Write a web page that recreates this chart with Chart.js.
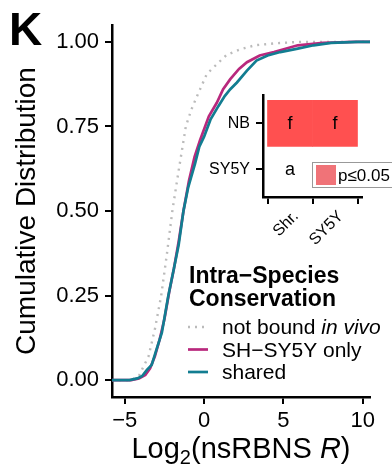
<!DOCTYPE html>
<html>
<head>
<meta charset="utf-8">
<script src="https://cdn.jsdelivr.net/npm/chart.js@4.4.1/dist/chart.umd.min.js"></script>
<style>
html,body{margin:0;padding:0;background:#fff;}
#wrap{position:relative;width:392px;height:469px;overflow:hidden;background:#fff;}
#main{position:absolute;left:0;top:0;}
#inset{position:absolute;left:180px;top:80px;}
</style>
</head>
<body>
<div id="wrap">
<canvas id="main" width="392" height="469"></canvas>
<canvas id="inset" width="212" height="170"></canvas>
</div>
<script>
// ---------- Data ----------
const X_TICKS = [-5, 0, 5, 10];
const Y_TICKS = [0, 0.25, 0.5, 0.75, 1];
const X_MIN = -5.8, X_MAX = 10.45;

// ECDF: not bound in vivo
const notBoundX = [-5.8, -4.6, -4.1, -3.5, -3.1, -2.7, -2.35, -2.0, -1.6, -1.15, -0.8, -0.44, 0.17, 0.82, 1.43, 2.28, 3.2, 4.5, 6.0, 10.45];
const notBoundY = [0, 0, 0.013, 0.07, 0.15, 0.25, 0.37, 0.50, 0.62, 0.75, 0.80, 0.84, 0.905, 0.935, 0.962, 0.978, 0.99, 0.996, 1, 1];

// ECDF: SH-SY5Y only
const sySoloX = [-5.8, -4.6, -4.1, -3.7, -3.4, -3.1, -2.8, -2.5, -2.2, -1.9, -1.6, -1.3, -0.95, -0.6, -0.25, 0.3, 0.8, 1.2, 1.65, 2.2, 2.7, 3.5, 4.4, 5.9, 7.5, 9.5, 10.45];
const sySoloY = [0, 0, 0.005, 0.015, 0.035, 0.07, 0.12, 0.18, 0.26, 0.33, 0.41, 0.50, 0.59, 0.66, 0.71, 0.78, 0.82, 0.86, 0.89, 0.92, 0.94, 0.96, 0.97, 0.99, 0.997, 1, 1];

// ECDF: shared
const sharedX = [-5.8, -4.7, -4.2, -3.9, -3.6, -3.3, -3.0, -2.66, -2.25, -1.9, -1.6, -1.3, -1.0, -0.57, -0.3, 0.0, 0.4, 0.9, 1.3, 1.65, 2.07, 2.7, 3.3, 4.0, 4.8, 5.9, 6.9, 8.0, 9.7, 10.45];
const sharedY = [0, 0, 0.005, 0.012, 0.03, 0.045, 0.09, 0.14, 0.25, 0.33, 0.40, 0.50, 0.57, 0.64, 0.69, 0.72, 0.77, 0.81, 0.84, 0.86, 0.88, 0.915, 0.945, 0.96, 0.97, 0.98, 0.99, 0.997, 1, 1];

const LEGEND_TITLE = ['Intra\u2212Species', 'Conservation'];
const LEGEND_LABELS = ['not bound ', 'SH\u2212SY5Y only', 'shared'];

// Inset significance grid
const INSET_COLS = ['Shr.', 'SY5Y'];
const INSET_ROWS = ['SY5Y', 'NB'];      // bottom to top
const TILE_COL = [0, 1, 0];
const TILE_ROW = [1, 1, 0];
const TILE_SIG = [true, true, false];
const TILE_TEXT = ['f', 'f', 'a'];

// ---------- Styles ----------
const FONT = '"Liberation Sans", Arial, Helvetica, sans-serif';
const TEAL = '#127D91';
const MAGENTA = '#B9287D';
const GREY = '#BBBBBB';
const SIG_RED = '#FF5050';

function pts(xs, ys){ return xs.map((x,i)=>({x:x, y:ys[i]})); }
function fmtX(v){ return v < 0 ? '\u2212' + Math.abs(v) : String(v); }

const mainOverlay = {
  id: 'mainOverlay',
  afterDraw(chart){
    const ctx = chart.ctx;
    ctx.save();
    ctx.fillStyle = '#000';
    ctx.textAlign = 'left';
    ctx.textBaseline = 'alphabetic';
    // panel letter
    ctx.font = 'bold 46px ' + FONT;
    ctx.fillText('K', 9, 45);
    // x-axis title: Log2(nsRBNS R)
    const xa = chart.chartArea;
    const cx = (xa.left + xa.right) / 2, by = 458;
    const parts = [
      {t:'Log', f:'29px ' + FONT, dy:0},
      {t:'2', f:'20px ' + FONT, dy:6},
      {t:'(nsRBNS ', f:'29px ' + FONT, dy:0},
      {t:'R', f:'italic 29px ' + FONT, dy:0},
      {t:')', f:'29px ' + FONT, dy:0}
    ];
    let total = 0;
    parts.forEach(p=>{ ctx.font = p.f; p.w = ctx.measureText(p.t).width; total += p.w; });
    let x = cx - total/2;
    parts.forEach(p=>{ ctx.font = p.f; ctx.fillText(p.t, x, by + p.dy); x += p.w; });
    // legend
    ctx.font = 'bold 23px ' + FONT;
    ctx.fillText(LEGEND_TITLE[0], 189, 283);
    ctx.fillText(LEGEND_TITLE[1], 189, 306);
    const ds = chart.data.datasets;
    const order = [2, 1, 0];
    order.forEach((di, i)=>{
      const yc = 327 + i * 22.5;
      const d = ds[di];
      ctx.save();
      ctx.strokeStyle = d.borderColor;
      ctx.lineWidth = d.borderWidth;
      ctx.setLineDash(d.borderDash || []);
      ctx.beginPath();
      ctx.moveTo(188, yc); ctx.lineTo(208, yc);
      ctx.stroke();
      ctx.restore();
      ctx.font = '21px ' + FONT;
      ctx.fillStyle = '#000';
      ctx.fillText(LEGEND_LABELS[i], 222, yc + 7);
      if (i === 0) {
        const w = ctx.measureText(LEGEND_LABELS[i]).width;
        ctx.font = 'italic 21px ' + FONT;
        ctx.fillText('in vivo', 222 + w, yc + 7);
      }
    });
    ctx.restore();
  }
};

new Chart(document.getElementById('main'), {
  type: 'scatter',
  data: {
    datasets: [
      {label: 'shared', data: pts(sharedX, sharedY), showLine: true, borderColor: TEAL, borderWidth: 2.7, pointRadius: 0, order: 0, tension: 0},
      {label: 'SH-SY5Y only', data: pts(sySoloX, sySoloY), showLine: true, borderColor: MAGENTA, borderWidth: 2.7, pointRadius: 0, order: 1, tension: 0},
      {label: 'not bound in vivo', data: pts(notBoundX, notBoundY), showLine: true, borderColor: GREY, borderWidth: 2.4, borderDash: [2, 5], pointRadius: 0, order: 2, tension: 0}
    ]
  },
  options: {
    responsive: false,
    animation: false,
    devicePixelRatio: 1,
    layout: {padding: {top: 25, right: 22, left: 0, bottom: 0}},
    plugins: {legend: {display: false}, tooltip: {enabled: false}},
    scales: {
      x: {
        type: 'linear', min: X_MIN, max: X_MAX,
        afterBuildTicks: s => { s.ticks = X_TICKS.map(v => ({value: v})); },
        afterFit: s => { s.height = 72; },
        grid: {drawOnChartArea: false, color: '#000', lineWidth: 2, tickLength: 7},
        border: {display: true, color: '#000', width: 2.5},
        ticks: {font: {family: FONT, size: 22}, color: '#000', padding: 4, maxRotation: 0, autoSkip: false, callback: v => fmtX(v)}
      },
      y: {
        type: 'linear', min: -0.05, max: 1.05,
        afterBuildTicks: s => { s.ticks = Y_TICKS.map(v => ({value: v})); },
        afterFit: s => { s.width = 112; },
        grid: {drawOnChartArea: false, color: '#000', lineWidth: 2, tickLength: 7},
        border: {display: true, color: '#000', width: 2.5},
        ticks: {font: {family: FONT, size: 22}, color: '#000', padding: 6, autoSkip: false, callback: v => Number(v).toFixed(2)},
        title: {display: true, text: 'Cumulative Distribution', color: '#000', font: {family: FONT, size: 28, lineHeight: 1}, padding: {top: 13, bottom: 0}}
      }
    }
  },
  plugins: [mainOverlay]
});

// ---------- Inset ----------
const insetOverlay = {
  id: 'insetOverlay',
  afterDatasetsDraw(chart){
    const ctx = chart.ctx;
    const xs = chart.scales.x, ys = chart.scales.y;
    ctx.save();
    ctx.fillStyle = '#000';
    ctx.textAlign = 'center';
    ctx.textBaseline = 'middle';
    ctx.font = '18px ' + FONT;
    TILE_TEXT.forEach((t, i)=>{
      ctx.fillText(t, xs.getPixelForValue(TILE_COL[i]), ys.getPixelForValue(TILE_ROW[i]) + 1);
    });
    ctx.restore();
  },
  afterDraw(chart){
    const ctx = chart.ctx;
    ctx.save();
    // legend box
    ctx.fillStyle = '#fff';
    ctx.fillRect(132.5, 82.5, 80, 25);
    ctx.strokeStyle = '#999';
    ctx.lineWidth = 1;
    ctx.strokeRect(132.5, 82.5, 80, 25);
    ctx.fillStyle = '#F07378';
    ctx.fillRect(136, 85, 20, 20);
    ctx.fillStyle = '#000';
    ctx.font = '17px ' + FONT;
    ctx.textAlign = 'left';
    ctx.textBaseline = 'middle';
    ctx.fillText('p\u22640.05', 158, 96);
    ctx.restore();
  }
};

new Chart(document.getElementById('inset'), {
  type: 'bar',
  data: {
    datasets: [{
      data: TILE_COL.map((c, i) => ({x: c, y: [TILE_ROW[i] - 0.5, TILE_ROW[i] + 0.5]})),
      backgroundColor: TILE_SIG.map(s => s ? SIG_RED : 'rgba(255,255,255,0)'),
      borderWidth: 0,
      barPercentage: 1,
      categoryPercentage: 1,
      grouped: false
    }]
  },
  options: {
    responsive: false,
    animation: false,
    devicePixelRatio: 1,
    layout: {padding: {top: 10, right: 30, left: 0, bottom: 0}},
    plugins: {legend: {display: false}, tooltip: {enabled: false}},
    scales: {
      x: {
        type: 'linear', min: -0.6, max: 1.6, offset: false,
        afterBuildTicks: s => { s.ticks = [0, 1].map(v => ({value: v})); },
        afterFit: s => { s.height = 53; },
        grid: {drawOnChartArea: false, color: '#000', lineWidth: 2, tickLength: 7},
        border: {display: true, color: '#000', width: 2.5},
        ticks: {font: {family: FONT, size: 16}, color: '#000', padding: 3, labelOffset: 6, minRotation: 45, maxRotation: 45, autoSkip: false, callback: v => INSET_COLS[v]}
      },
      y: {
        type: 'linear', min: -0.6, max: 1.6,
        afterBuildTicks: s => { s.ticks = [0, 1].map(v => ({value: v})); },
        afterFit: s => { s.width = 83; },
        grid: {drawOnChartArea: false, color: '#000', lineWidth: 2, tickLength: 7},
        border: {display: true, color: '#000', width: 2.5},
        ticks: {font: {family: FONT, size: 16}, color: '#000', padding: 6, autoSkip: false, callback: v => INSET_ROWS[v]}
      }
    }
  },
  plugins: [insetOverlay]
});
</script>
</body>
</html>
